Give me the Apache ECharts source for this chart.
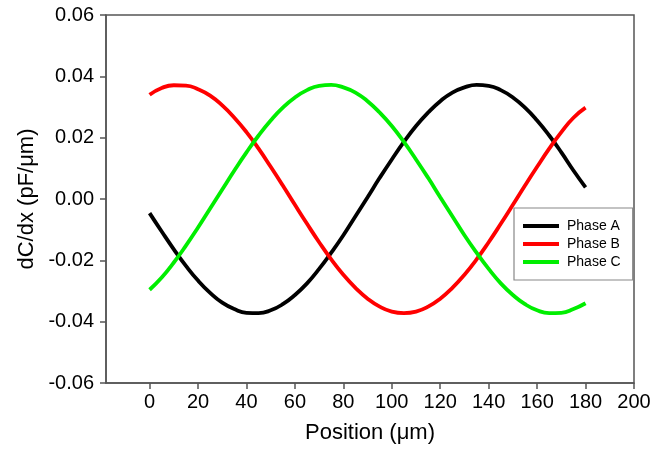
<!DOCTYPE html>
<html>
<head>
<meta charset="utf-8">
<script src="https://cdn.jsdelivr.net/npm/echarts@6/dist/echarts.min.js"></script>
<style>
html,body{margin:0;padding:0;background:#fff;}
#chart{width:669px;height:450px;}
</style>
</head>
<body>
<div id="chart"></div>
<script>
var positions = [0,5,10,15,20,25,30,35,40,45,50,55,60,65,70,75,80,85,90,95,100,105,110,115,120,125,130,135,140,145,150,155,160,165,170,175,180];
var phaseA = [-0.0046,-0.0106,-0.0164,-0.0218,-0.0266,-0.0306,-0.0338,-0.0359,-0.0371,-0.0372,-0.0363,-0.0343,-0.0313,-0.0275,-0.0228,-0.0175,-0.0118,-0.0056,0.0006,0.0069,0.0129,0.0186,0.0238,0.0282,0.0319,0.0347,0.0364,0.0372,0.0369,0.0355,0.0331,0.0298,0.0256,0.0207,0.0152,0.0093,0.0038];
var phaseB = [0.0340,0.0362,0.0371,0.0370,0.0358,0.0337,0.0305,0.0265,0.0218,0.0164,0.0105,0.0044,-0.0019,-0.0081,-0.0141,-0.0197,-0.0247,-0.0290,-0.0325,-0.0351,-0.0367,-0.0372,-0.0367,-0.0351,-0.0325,-0.0290,-0.0247,-0.0197,-0.0141,-0.0081,-0.0019,0.0044,0.0105,0.0164,0.0218,0.0265,0.0298];
var phaseC = [-0.0296,-0.0256,-0.0207,-0.0152,-0.0093,-0.0031,0.0031,0.0093,0.0152,0.0207,0.0256,0.0298,0.0331,0.0355,0.0369,0.0372,0.0364,0.0347,0.0319,0.0282,0.0238,0.0186,0.0129,0.0069,0.0006,-0.0056,-0.0118,-0.0175,-0.0228,-0.0275,-0.0313,-0.0343,-0.0363,-0.0372,-0.0371,-0.0359,-0.0340];
var seriesNames = ['Phase A','Phase B','Phase C'];
var seriesColors = ['#000000','#ff0000','#00ee00'];
var xTicks = [0,20,40,60,80,100,120,140,160,180,200];
var yTicks = [-0.06,-0.04,-0.02,0.00,0.02,0.04,0.06];

function pairs(vals){ return positions.map(function(p,i){ return [p, vals[i]]; }); }
var allVals = [phaseA, phaseB, phaseC];

var font = 'Liberation Sans, Arial, sans-serif';
var chart = echarts.init(document.getElementById('chart'), null, {renderer:'canvas'});
chart.setOption({
  animation:false,
  backgroundColor:'#fff',
  grid:{left:106,right:35,top:15,bottom:67,show:true,borderColor:'#555',borderWidth:1.5,backgroundColor:'transparent'},
  legend:{
    orient:'vertical',left:514,top:208,
    padding:[11,12,11,9],
    itemGap:4,itemWidth:36,itemHeight:4,icon:'rect',
    backgroundColor:'#fff',borderColor:'#888',borderWidth:1.2,borderRadius:0,
    textStyle:{fontFamily:font,fontSize:14,lineHeight:14,color:'#000',padding:[0,0,0,3]},
    data:seriesNames.map(function(n,i){ return {name:n,icon:'rect',itemStyle:{color:seriesColors[i]}}; })
  },
  xAxis:{
    type:'value',min:-18,max:200,
    name:'Position (\u03bcm)',nameLocation:'middle',nameGap:39,
    nameTextStyle:{fontFamily:font,fontSize:22,color:'#000'},
    axisLine:{show:true,onZero:false,lineStyle:{color:'#555',width:1.5}},
    axisTick:{show:true,inside:false,length:6,customValues:xTicks,lineStyle:{color:'#555',width:1.5}},
    axisLabel:{customValues:xTicks,margin:9,fontFamily:font,fontSize:20,color:'#000'},
    splitLine:{show:false}
  },
  yAxis:{
    type:'value',min:-0.06,max:0.06,interval:0.02,
    name:'dC/dx (pF/\u03bcm)',nameLocation:'middle',nameGap:64,nameRotate:90,
    nameTextStyle:{fontFamily:font,fontSize:22,color:'#000'},
    axisLine:{show:true,onZero:false,lineStyle:{color:'#555',width:1.5}},
    axisTick:{show:true,inside:false,length:6,lineStyle:{color:'#555',width:1.5}},
    axisLabel:{margin:12,fontFamily:font,fontSize:20,color:'#000',formatter:function(v){return v.toFixed(2);}},
    splitLine:{show:false}
  },
  series:seriesNames.map(function(n,i){
    return {name:n,type:'line',smooth:true,symbol:'none',data:pairs(allVals[i]),
      lineStyle:{color:seriesColors[i],width:3.8},itemStyle:{color:seriesColors[i]}};
  })
});
</script>
</body>
</html>
